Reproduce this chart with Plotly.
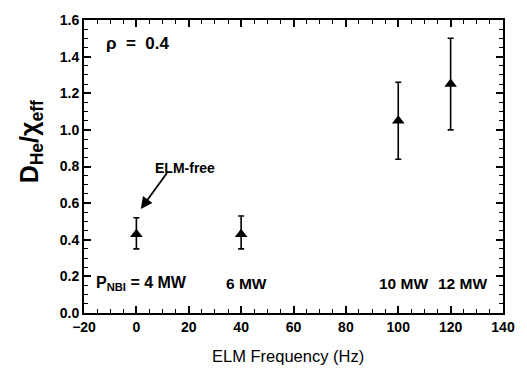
import plotly.graph_objects as go

freq = [0, 40, 100, 120]
ratio = [0.43, 0.43, 1.05, 1.25]
err_hi = [0.52, 0.53, 1.26, 1.50]
err_lo = [0.35, 0.35, 0.84, 1.00]
power_labels = ["6 MW", "10 MW", "12 MW"]
power_x = [42, 102, 124.5]

plus = [h - v for h, v in zip(err_hi, ratio)]
minus = [v - l for v, l in zip(ratio, err_lo)]

FONT = "Liberation Sans"

fig = go.Figure()
fig.add_trace(go.Scatter(
    x=freq, y=ratio, mode="markers",
    marker=dict(symbol="triangle-up", size=11, color="black"),
    error_y=dict(type="data", symmetric=False, array=plus, arrayminus=minus,
                 color="black", thickness=1.6, width=3),
    showlegend=False,
))

axis_common = dict(
    showline=True, linecolor="black", linewidth=2, mirror="ticks",
    ticks="inside", tickcolor="black", tickwidth=1.5, ticklen=7,
    showgrid=False, zeroline=False,
    tickfont=dict(family=FONT, size=14, color="black", weight="bold"),
)

fig.update_xaxes(range=[-20, 140], dtick=20, tick0=0,
                 minor=dict(ticks="inside", dtick=5, ticklen=4, tickcolor="black", tickwidth=1.2),
                 **axis_common)
fig.update_yaxes(range=[0, 1.6], dtick=0.2, tick0=0, tickformat=".1f",
                 minor=dict(ticks="inside", dtick=0.05, ticklen=4, tickcolor="black", tickwidth=1.2),
                 **axis_common)

# axis titles as annotations for exact placement
fig.add_annotation(xref="paper", yref="paper", x=0.486, y=-0.148, yanchor="middle",
                   text="ELM Frequency (Hz)", showarrow=False,
                   font=dict(family=FONT, size=16.5, color="black"))
fig.add_annotation(xref="paper", yref="paper", x=-0.17, y=0.585, textangle=-90,
                   text="D<sub>He</sub>/χ<sub>eff</sub>", showarrow=False,
                   font=dict(family=FONT, size=25, color="black", weight="bold"))

fig.add_annotation(x=-12.5, y=1.47, text="ρ  =  0.4", showarrow=False, xanchor="left",
                   font=dict(family=FONT, size=17, color="black", weight="bold"))
fig.add_annotation(x=1.7, y=0.568, ax=12.1, ay=0.773, xref="x", yref="y", axref="x", ayref="y",
                   text="", showarrow=True, arrowhead=2, arrowsize=1.3, arrowwidth=1.8,
                   arrowcolor="black")
fig.add_annotation(x=18.5, y=0.79, text="ELM-free", showarrow=False,
                   font=dict(family=FONT, size=14, color="black", weight="bold"))
fig.add_annotation(x=-16, y=0.162, text="P<sub>NBI</sub> = 4 MW", showarrow=False,
                   xanchor="left", font=dict(family=FONT, size=16, color="black", weight="bold"))
for px, lab in zip(power_x, power_labels):
    fig.add_annotation(x=px, y=0.162, text=lab, showarrow=False,
                       font=dict(family=FONT, size=15.5, color="black", weight="bold"))

fig.update_layout(
    width=527, height=368,
    margin=dict(l=84, r=15, t=17, b=55),
    plot_bgcolor="white", paper_bgcolor="white",
)

fig.write_html("out.html")
